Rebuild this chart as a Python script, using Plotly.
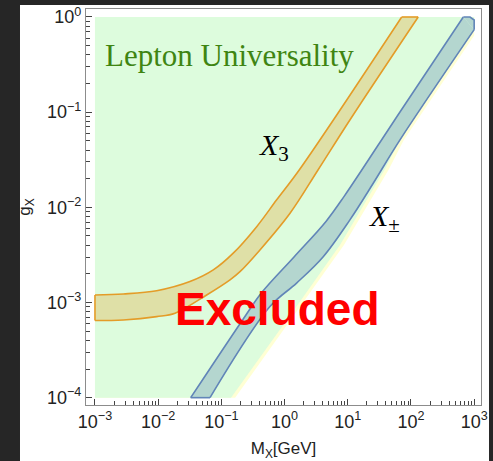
import plotly.graph_objects as go

# X3 band: upper and lower edges (mass M in GeV, coupling g)
x3_upper_m = [1.0e-3, 2.81e-3, 9.46e-3, 0.0318, 0.0745, 0.154, 0.362, 0.750, 1.75, 71.3]
x3_upper_g = [1.20e-3, 1.23e-3, 1.33e-3, 1.66e-3, 2.20e-3, 3.30e-3, 6.27e-3, 0.0120, 0.0253, 1.0]
x3_lower_m = [1.0e-3, 2.81e-3, 9.46e-3, 0.0185, 0.0585, 0.137, 0.197, 0.408, 1.22, 3.38, 10.8, 130.0]
x3_lower_g = [6.46e-4, 6.56e-4, 7.11e-4, 7.73e-4, 1.20e-3, 1.73e-3, 2.11e-3, 3.57e-3, 8.67e-3, 0.0247, 0.0828, 1.0]

# X± band: left (upper) and right (lower) edges, plus the clipped top-right corner
xpm_left_m = [0.0327, 0.236, 0.438, 1.41, 4.52, 8.87, 67.0, 673.0]
xpm_left_g = [1.0e-4, 7.14e-4, 1.28e-3, 3.01e-3, 7.11e-3, 0.0132, 0.1005, 1.0]
xpm_right_m = [0.0661, 0.587, 1.55, 4.09, 10.8, 25.3, 67.0, 1000.0]
xpm_right_g = [1.0e-4, 9.06e-4, 1.60e-3, 3.03e-3, 7.38e-3, 0.0179, 0.0511, 0.736]
xpm_corner_m = [860.0, 1000.0]
xpm_corner_g = [1.0, 0.93]

# Lepton-universality excluded region: boundary on the heavy-mass side
lu_edge_m = [0.142, 1.41, 7.53, 38.0, 67.0, 1000.0]
lu_edge_g = [1.0e-4, 8.36e-4, 4.03e-3, 0.0247, 0.0511, 0.736]
# thin pale band just beyond that boundary
lu_halo_m = [0.165, 1.63, 8.7, 44.0, 77.0, 1000.0]
lu_halo_g = [1.0e-4, 8.36e-4, 4.03e-3, 0.0247, 0.0511, 0.64]

m_min, m_max = 1.0e-3, 1.0e3
g_min, g_max = 1.0e-4, 1.0

major_x = [1e-3, 1e-2, 1e-1, 1e0, 1e1, 1e2, 1e3]
major_x_text = ["10<sup>−3</sup>", "10<sup>−2</sup>", "10<sup>−1</sup>", "10<sup>0</sup>",
                "10<sup>1</sup>", "10<sup>2</sup>", "10<sup>3</sup>"]
major_y = [1e-4, 1e-3, 1e-2, 1e-1, 1e0]
major_y_text = ["10<sup>−4</sup>", "10<sup>−3</sup>", "10<sup>−2</sup>", "10<sup>−1</sup>", "10<sup>0</sup>"]
minor_x = [k * 10.0 ** e for e in range(-3, 3) for k in range(2, 10)]
minor_y = [k * 10.0 ** e for e in range(-4, 0) for k in range(2, 10)]


def region(edge_m, edge_g):
    xs = [m_min, m_min, m_max] + edge_m[::-1]
    ys = [g_min, g_max, g_max] + edge_g[::-1]
    return xs + [xs[0]], ys + [ys[0]]


fig = go.Figure()

hx, hy = region(lu_halo_m, lu_halo_g)
fig.add_trace(go.Scatter(x=hx, y=hy, fill="toself", fillcolor="#ffffd4",
                         line=dict(width=0), mode="lines", hoverinfo="skip"))
gx, gy = region(lu_edge_m, lu_edge_g)
fig.add_trace(go.Scatter(x=gx, y=gy, fill="toself", fillcolor="#ddfcdd",
                         line=dict(width=0), mode="lines", hoverinfo="skip"))


def add_band(a_m, a_g, b_m, b_g, fill, edge):
    """Smooth band between edge a and edge b; straight caps join their ends."""
    fig.add_trace(go.Scatter(x=a_m, y=a_g, mode="lines", hoverinfo="skip",
                             line=dict(color=edge, width=1.6, shape="spline", smoothing=1.0)))
    fig.add_trace(go.Scatter(x=b_m, y=b_g, mode="lines", fill="tonexty", fillcolor=fill,
                             hoverinfo="skip",
                             line=dict(color=edge, width=1.6, shape="spline", smoothing=1.0)))


def add_cap(xs, ys, fill, edge):
    fig.add_trace(go.Scatter(x=xs, y=ys, mode="lines", fill="toself", fillcolor=fill,
                             hoverinfo="skip", line=dict(color=edge, width=1.6)))


orange_fill, orange_edge = "#dfe0a7", "#e49c28"
blue_fill, blue_edge = "#b4d6cf", "#6185b8"

add_band(x3_lower_m, x3_lower_g, x3_upper_m, x3_upper_g, orange_fill, orange_edge)
add_cap([x3_lower_m[0], x3_upper_m[0]], [x3_lower_g[0], x3_upper_g[0]], orange_fill, orange_edge)
add_cap([x3_upper_m[-1], x3_lower_m[-1]], [x3_upper_g[-1], x3_lower_g[-1]], orange_fill, orange_edge)

add_band(xpm_right_m, xpm_right_g, xpm_left_m, xpm_left_g, blue_fill, blue_edge)
add_cap([xpm_left_m[0], xpm_right_m[0]], [xpm_left_g[0], xpm_right_g[0]], blue_fill, blue_edge)
add_cap([xpm_left_m[-1]] + xpm_corner_m + [xpm_right_m[-1]],
        [xpm_left_g[-1]] + xpm_corner_g + [xpm_right_g[-1]], blue_fill, blue_edge)

serif = "Liberation Serif, Times New Roman, serif"
sans = "Liberation Sans, Arial, sans-serif"

fig.add_annotation(x=-2.873, y=-0.40, xref="x", yref="y", xanchor="left", yanchor="middle",
                   text="Lepton Universality", showarrow=False,
                   font=dict(family=serif, size=31, color="#3f8512"))
fig.add_annotation(x=-0.440, y=-1.365, xref="x", yref="y", xanchor="left", yanchor="middle",
                   text="<i>X</i><sub>3</sub>", showarrow=False,
                   font=dict(family=serif, size=30, color="black"))
fig.add_annotation(x=1.300, y=-2.111, xref="x", yref="y", xanchor="left", yanchor="middle",
                   text="<i>X</i><sub>±</sub>", showarrow=False,
                   font=dict(family=serif, size=30, color="black"))
fig.add_annotation(x=-1.765, y=-3.065, xref="x", yref="y", xanchor="left", yanchor="middle",
                   text="<b>Excluded</b>", showarrow=False,
                   font=dict(family=sans, size=46, color="#ff0000"))

axis_common = dict(
    type="log", showgrid=False, zeroline=False, automargin=False,
    showline=True, linecolor="#8c8c8c", linewidth=1.2, mirror=True,
    ticks="inside", ticklen=6, tickcolor="#444444", tickwidth=1,
    tickfont=dict(family=sans, size=18, color="#222222"),
)

fig.update_xaxes(**axis_common, range=[-3.142, 3.108],
                 tickvals=major_x, ticktext=major_x_text,
                 minor=dict(tickvals=minor_x, ticks="inside", ticklen=4,
                            tickcolor="#444444", showgrid=False),
                 title=dict(text="M<sub>X</sub>[GeV]", font=dict(family=sans, size=17, color="#222222"),
                            standoff=15))
fig.update_yaxes(**axis_common, range=[-4.077, 0.084],
                 tickvals=major_y, ticktext=major_y_text,
                 minor=dict(tickvals=minor_y, ticks="inside", ticklen=4,
                            tickcolor="#444444", showgrid=False),
                 title=dict(text="g<sub>X</sub>", font=dict(family=sans, size=17, color="#222222"),
                            standoff=11))

fig.update_layout(
    width=493, height=461,
    margin=dict(l=86, r=12, t=9, b=56),
    paper_bgcolor="#262626",
    plot_bgcolor="white",
    showlegend=False,
    shapes=[dict(type="rect", xref="paper", yref="paper",
                 x0=-0.1671, x1=1.0203, y0=-0.2, y1=1.0101,
                 fillcolor="white", line=dict(width=0), layer="below")],
)

fig.write_html("out.html")
